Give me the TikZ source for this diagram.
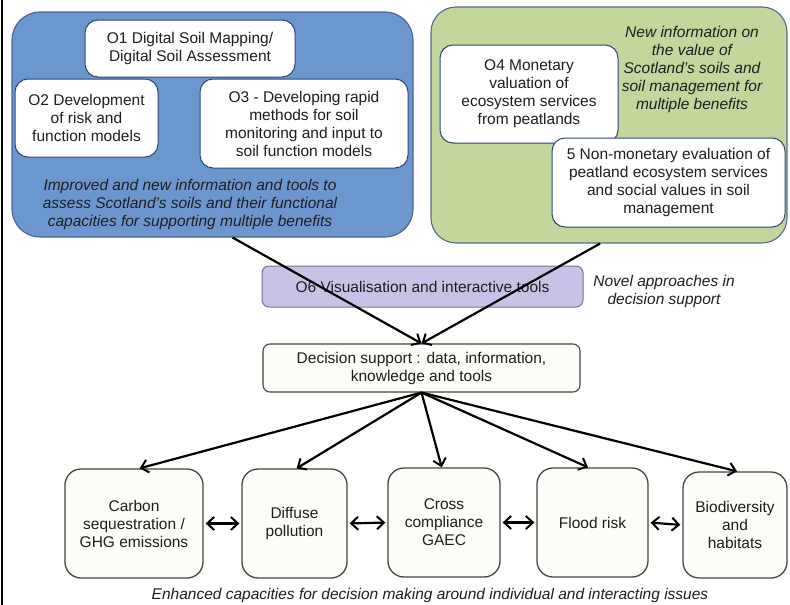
\documentclass[tikz,border=0pt]{standalone}
\usepackage{fontspec}
\setmainfont{Liberation Sans}
\usetikzlibrary{arrows.meta,calc}
\definecolor{bluefill}{RGB}{108,151,206}
\definecolor{blueedge}{RGB}{70,100,150}
\definecolor{greenfill}{RGB}{195,214,155}
\definecolor{greenedge}{RGB}{85,105,135}
\definecolor{inneredge}{RGB}{45,70,115}
\definecolor{purplefill}{RGB}{201,194,230}
\definecolor{purpleedge}{RGB}{120,115,150}
\definecolor{issueedge}{RGB}{70,70,60}
\definecolor{issuefill}{RGB}{253,252,249}
\definecolor{txt}{RGB}{30,30,30}
\tikzset{
  basefont/.style={font=\fontsize{15.5}{18}\selectfont, text=txt},
  bigbox/.style={draw, line width=1.1pt, rounded corners=28pt, inner sep=0pt},
  innerbox/.style={basefont, draw=inneredge, fill=white, line width=1pt, rounded corners=13pt, align=center, inner sep=0pt},
  notetext/.style={font=\fontsize{15.5}{18}\selectfont\itshape, text=txt, align=center, inner sep=0pt},
  issuebox/.style={basefont, draw=issueedge, fill=issuefill, line width=1.3pt, rounded corners=16pt, align=center, inner sep=0pt, minimum height=109pt},
  arr/.style={-{Straight Barb[length=7pt,width=13pt,line width=2pt]}, line width=2.2pt, black},
  darr/.style={{Straight Barb[length=7pt,width=13pt,line width=2pt]}-{Straight Barb[length=7pt,width=13pt,line width=2pt]}, line width=2.2pt, black}
}
\begin{document}
\begin{tikzpicture}[x=1pt,y=-1pt]
\useasboundingbox (0,0) rectangle (790,605);
\fill[white] (0,0) rectangle (790,605);
\draw[line width=2pt] (2,0) -- (2,605);

% top-left blue group
\node[bigbox, draw=blueedge, fill=bluefill, minimum width=401pt, minimum height=225pt] (blue) at (212.5,124.5) {};
\node[innerbox, minimum width=210pt, minimum height=57pt] (o1) at (190,48.5) {O1 Digital Soil Mapping/\\Digital Soil Assessment};
\node[innerbox, minimum width=143pt, minimum height=78pt] (o2) at (86.5,118) {O2 Development\\of risk and\\function models};
\node[innerbox, minimum width=208pt, minimum height=89pt] (o3) at (304,123.5) {O3 - Developing rapid\\methods for soil\\monitoring and input to\\soil function models};
\node[notetext] (bluenote) at (190,204.5) {Improved and new information and tools to\\assess Scotland's soils and their functional\\capacities for supporting multiple benefits};

% top-right green group
\node[bigbox, rounded corners=25pt, draw=greenedge, fill=greenfill, minimum width=356pt, minimum height=236pt] (green) at (609,125) {};
\node[innerbox, minimum width=178pt, minimum height=98pt] (o4) at (529,94) {O4 Monetary\\valuation of\\ecosystem services\\from peatlands};
\node[innerbox, minimum width=233pt, minimum height=89pt] (o5) at (668.5,182.5) {5 Non-monetary evaluation of\\peatland ecosystem services\\and social values in soil\\management};
\node[notetext] (greennote) at (692,69) {New information on\\the value of\\Scotland's soils and\\soil management for\\multiple benefits};

% middle
\node[basefont, draw=purpleedge, fill=purplefill, line width=1pt, rounded corners=7pt, minimum width=321pt, minimum height=41pt, inner sep=0pt] (o6) at (422.5,286.5) {O6 Visualisation and interactive tools};
\node[notetext] (novel) at (664,291) {Novel approaches in\\decision support};
\node[basefont, draw=issueedge, fill=issuefill, line width=1.1pt, rounded corners=7pt, minimum width=317pt, minimum height=48pt, align=center, inner sep=0pt] (ds) at (421.5,368) {Decision support : data, information,\\knowledge and tools};

\draw[arr] ($(blue.south west)!0.55!(blue.south east)$) -- (ds.north);
\draw[arr] ($(green.south west)!0.475!(green.south east)$) -- (ds.north);

% bottom row
\node[issuebox, minimum width=138pt] (carbon) at (134,523.5) {Carbon\\sequestration /\\GHG emissions};
\node[issuebox, minimum width=105pt] (diffuse) at (294.5,523.5) {Diffuse\\pollution};
\node[issuebox, minimum width=112pt] (cross) at (444,522.5) {Cross\\compliance\\GAEC};
\node[issuebox, minimum width=111pt] (flood) at (592.5,522.5) {Flood risk};
\node[issuebox, minimum width=104pt, minimum height=106pt] (bio) at (735,525) {Biodiversity\\and\\habitats};

\draw[arr] (ds.south) -- ($(carbon.north west)!0.54!(carbon.north east)$);
\draw[arr] (ds.south) -- ($(diffuse.north west)!0.52!(diffuse.north east)$);
\draw[arr] (ds.south) -- ($(cross.north west)!0.48!(cross.north east)$);
\draw[arr] (ds.south) -- ($(flood.north west)!0.46!(flood.north east)$);
\draw[arr] (ds.south) -- ($(bio.north west)!0.52!(bio.north east)$);

\draw[darr, shorten <=2pt, shorten >=2pt] (carbon.east) -- (diffuse.west);
\draw[darr, shorten <=2pt, shorten >=2pt] (diffuse.east) -- (cross.west);
\draw[darr, shorten <=2pt, shorten >=2pt] (cross.east) -- (flood.west);
\draw[darr, shorten <=2pt, shorten >=2pt] (flood.east) -- (bio.west);

\node[notetext] (caption) at (430,595) {Enhanced capacities for decision making around individual and interacting issues};
\end{tikzpicture}
\end{document}
